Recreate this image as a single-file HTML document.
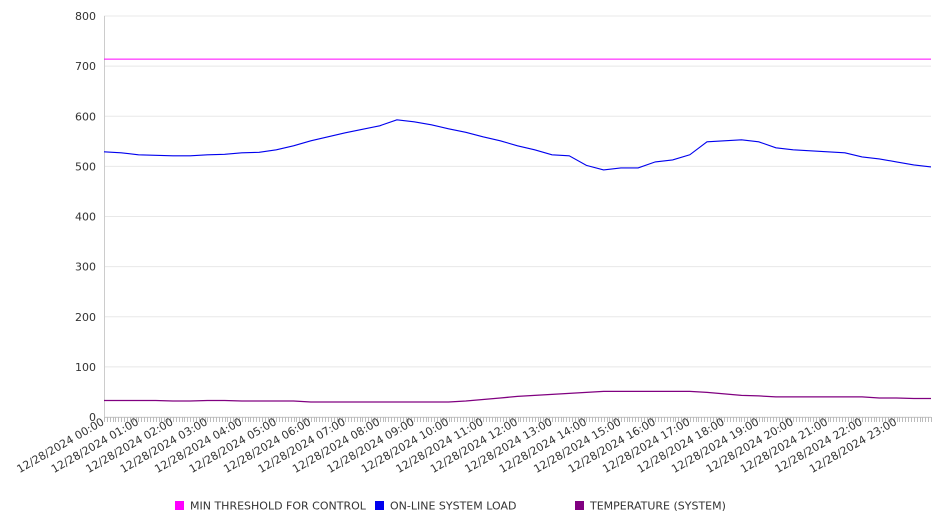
<!DOCTYPE html>
<html><head><meta charset="utf-8"><style>
body{margin:0;background:#fff;}
svg text{font-family:"DejaVu Sans","Liberation Sans",sans-serif;fill:#333;}
</style></head><body>
<svg id="chart" width="946" height="526" xmlns="http://www.w3.org/2000/svg">
<g id="grid"></g>
<g id="yaxis"></g>
<g id="xaxis"></g>
<g id="series"></g>
<g id="legend"></g>
</svg>
<script>
const hourLabels = ["00:00","01:00","02:00","03:00","04:00","05:00","06:00","07:00","08:00","09:00","10:00","11:00","12:00","13:00","14:00","15:00","16:00","17:00","18:00","19:00","20:00","21:00","22:00","23:00"];
const yTicks = [0,100,200,300,400,500,600,700,800];
const thresholdValue = 714;
// half-hourly samples from 00:00 to 24:00 (49 values)
const loadValues = [529,527,523,522,521,521,523,524,527,528,533,541,551,559,567,574,581,593,589,583,575,568,559,551,541,533,523,521,502,493,497,497,509,513,523,549,551,553,549,537,533,531,529,527,519,515,509,503,499];
const tempValues = [33,33,33,33,32,32,33,33,32,32,32,32,30,30,30,30,30,30,30,30,30,32,35,38,41,43,45,47,49,51,51,51,51,51,51,49,46,43,42,40,40,40,40,40,40,38,38,37,37];
const legendLabels = ["MIN THRESHOLD FOR CONTROL","ON-LINE SYSTEM LOAD","TEMPERATURE (SYSTEM)"];
const legendColors = ["#ff00ff","#0000ee","#800080"];

const NS="http://www.w3.org/2000/svg";
const X0=104,X1=931,Y0=417,Y1=16;
function xs(h){return X0+(X1-X0)*h/24;}
function ys(v){return Y0-(Y0-Y1)*v/800;}
function mk(tag,attrs,parent){const e=document.createElementNS(NS,tag);for(const k in attrs)e.setAttribute(k,attrs[k]);parent.appendChild(e);return e;}
const grid=document.getElementById('grid'),yaxis=document.getElementById('yaxis'),xaxis=document.getElementById('xaxis'),series=document.getElementById('series'),legend=document.getElementById('legend');

yTicks.forEach(v=>{
  const l=mk('line',{x1:X0,x2:X1,y1:ys(v),y2:ys(v),stroke:'#e8e8e8','stroke-width':1},grid);
  
  
  const t=mk('text',{x:96,y:ys(v)+4,'text-anchor':'end','font-size':11},yaxis);
  t.textContent=v;
  
  
});
mk('line',{x1:X0+0.5,x2:X0+0.5,y1:Y1,y2:Y0,stroke:'#ccc'},yaxis);
mk('line',{x1:X0,x2:X1,y1:Y0+0.5,y2:Y0+0.5,stroke:'#ccc'},xaxis);
for(let i=0;i<=288;i++){
  const x=Math.round(xs(i/12))+0.5;
  mk('line',{x1:x,x2:x,y1:Y0,y2:Y0+5,stroke:'#bbb','stroke-width':1},xaxis);
}
hourLabels.forEach((h,i)=>{
  const x=xs(i)+1,y=Y0+7;
  const t=mk('text',{x:x,y:y,'text-anchor':'end','font-size':11,transform:`rotate(-30 ${x} ${y})`},xaxis);
  t.textContent='12/28/2024 '+h;
  
  
});
function pathFor(vals){
  const step=24/(vals.length-1);
  return vals.map((v,i)=>(i?'L':'M')+xs(i*step).toFixed(1)+','+ys(v).toFixed(1)).join(' ');
}
const th=mk('line',{x1:X0,x2:X1,y1:ys(thresholdValue),y2:ys(thresholdValue),stroke:legendColors[0],'stroke-width':1},series);


const ld=mk('path',{d:pathFor(loadValues),fill:'none',stroke:legendColors[1],'stroke-width':1.1},series);


const tp=mk('path',{d:pathFor(tempValues),fill:'none',stroke:legendColors[2],'stroke-width':1.3},series);


const lx=[175,375,575];
legendLabels.forEach((s,i)=>{
  const r=mk('rect',{x:lx[i],y:501,width:9,height:9,fill:legendColors[i]},legend);
  
  
  const t=mk('text',{x:lx[i]+15,y:509.5,'font-size':11},legend);
  t.textContent=s;
  
  
});
</script>
</body></html>
